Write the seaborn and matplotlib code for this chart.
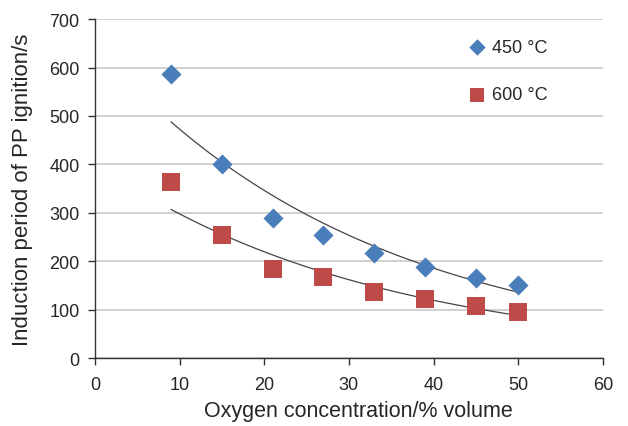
import numpy as np
import pandas as pd
import matplotlib
matplotlib.use("Agg")
import matplotlib.pyplot as plt
import seaborn as sns

# Datos
oxygen = [9, 15, 21, 27, 33, 39, 45, 50]
period_450 = [587, 401, 290, 255, 218, 188, 165, 150]
period_600 = [364, 254, 183, 168, 137, 123, 107, 95]
labels = ["450 °C", "600 °C"]
colors = ["#4a7ebb", "#be4b48"]

sns.set_style("white")
plt.rcParams["font.family"] = ["Liberation Sans", "DejaVu Sans"]

fig = plt.figure(figsize=(6.28, 4.27), dpi=100)
ax = fig.add_axes([0.151, 0.159, 0.809, 0.794])

ax.yaxis.grid(True, color="#c8c8c8", linewidth=1.2)
ax.set_axisbelow(True)

# Lineas de tendencia exponenciales
for vals in (period_450, period_600):
    b, a = np.polyfit(oxygen, np.log(vals), 1)
    xs = np.linspace(oxygen[0], oxygen[-1], 100)
    ax.plot(xs, np.exp(a + b * xs), color="#444444", linewidth=0.9, zorder=2)

sns.scatterplot(x=oxygen, y=period_450, marker="D", color=colors[0],
                s=105, linewidth=0, ax=ax, zorder=3, label=labels[0])
sns.scatterplot(x=oxygen, y=period_600, marker="s", color=colors[1],
                s=175, linewidth=0, ax=ax, zorder=3, label=labels[1])

ax.set_xlim(0, 60)
ax.set_ylim(0, 700)
ax.set_xticks(range(0, 61, 10))
ax.set_yticks(range(0, 701, 100))
ax.tick_params(axis="both", labelsize=13, length=5, width=1, color="#333333",
               direction="out", bottom=True, left=True)
ax.tick_params(axis="x", pad=8)
ax.tick_params(axis="y", pad=6)
ax.set_xlabel("Oxygen concentration/% volume", fontsize=15.5)
ax.set_ylabel("Induction period of PP ignition/s", fontsize=16)
ax.xaxis.set_label_coords(0.518, -0.125)
ax.yaxis.set_label_coords(-0.122, 0.5)

for s in ("top", "right"):
    ax.spines[s].set_visible(False)
for s in ("left", "bottom"):
    ax.spines[s].set_color("#333333")
    ax.spines[s].set_linewidth(1)

leg = ax.legend(loc="upper left", bbox_to_anchor=(0.703, 0.99),
                frameon=False, fontsize=13, labelspacing=1.7,
                handlelength=1.0, handletextpad=0.3)
leg.legend_handles[0].set_sizes([70])
leg.legend_handles[1].set_sizes([110])

fig.savefig("out.png", dpi=100)
